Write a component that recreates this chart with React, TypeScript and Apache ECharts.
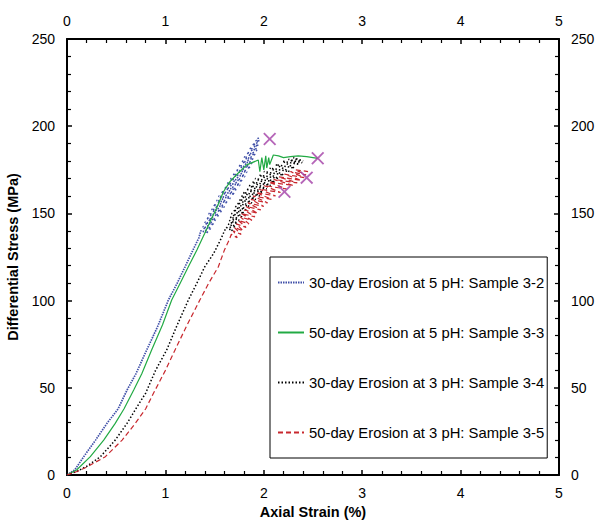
import React, { useEffect, useRef } from "react";
import * as echarts from "echarts";

const seriesNames = [
  "30-day Erosion at 5 pH: Sample 3-2",
  "50-day Erosion at 5 pH: Sample 3-3",
  "30-day Erosion at 3 pH: Sample 3-4",
  "50-day Erosion at 3 pH: Sample 3-5",
];

const sample32: [number, number][] = [
  [0, 0], [0.08, 3], [0.17, 10.5], [0.29, 20], [0.406, 29.6], [0.52, 38], [0.61, 48.7],
  [0.7, 58], [0.81, 71.7], [0.92, 85], [1.03, 100.3], [1.12, 110], [1.2, 119.4], [1.28, 129],
  [1.34, 136],
  [1.36, 140], [1.43, 139], [1.38, 142.5], [1.46, 141], [1.40, 145], [1.49, 143.5], [1.42, 147.5],
  [1.51, 146], [1.44, 150], [1.54, 148.5], [1.47, 152.5], [1.57, 151], [1.49, 155], [1.60, 153.5],
  [1.52, 157.5], [1.63, 156], [1.54, 160], [1.66, 158.5], [1.57, 162.5], [1.70, 161], [1.60, 165],
  [1.72, 163.5], [1.63, 167.5], [1.76, 166], [1.66, 170], [1.78, 168.5], [1.69, 172.5], [1.81, 171],
  [1.72, 175], [1.83, 173.5], [1.75, 177.5], [1.86, 176], [1.78, 180], [1.88, 178.5], [1.80, 182.5],
  [1.89, 181], [1.83, 185], [1.91, 183.5], [1.86, 187.5], [1.93, 186], [1.89, 190], [1.94, 188.5],
  [1.92, 192], [1.95, 191], [1.94, 194],
];

const sample33: [number, number][] = [
  [0, 0], [0.1, 3], [0.237, 10.5], [0.373, 20], [0.49, 29.6], [0.58, 38], [0.678, 48.7],
  [0.76, 58], [0.86, 71.7], [0.97, 86], [1.064, 100.3], [1.15, 110], [1.233, 119.4], [1.32, 129],
  [1.40, 138.6], [1.46, 146], [1.52, 153], [1.59, 162.4], [1.656, 168.2], [1.72, 172],
  [1.826, 177.8], [1.944, 180.6],
  [1.96, 174], [1.98, 182], [2.0, 175], [2.02, 183], [2.03, 176], [2.05, 182], [2.06, 178],
  [2.097, 183.5], [2.15, 183], [2.2, 182], [2.27, 182.6], [2.35, 183], [2.436, 182.6], [2.548, 181.6],
];

const sample34: [number, number][] = [
  [0, 0], [0.1, 2], [0.2, 5], [0.34, 10.5], [0.49, 20], [0.61, 29.6], [0.7, 38], [0.8, 47],
  [0.9, 60], [1.013, 71.7], [1.12, 86], [1.233, 100.3], [1.32, 110], [1.40, 119.4], [1.49, 127],
  [1.57, 136], [1.60, 140],
  [1.62, 142], [1.68, 140], [1.64, 144], [1.71, 142], [1.65, 146], [1.73, 144], [1.66, 148],
  [1.75, 146], [1.67, 150], [1.78, 148], [1.69, 152], [1.80, 150], [1.71, 154], [1.82, 152],
  [1.73, 156], [1.85, 154], [1.75, 158], [1.88, 156], [1.77, 160], [1.92, 158], [1.79, 162],
  [1.96, 160], [1.82, 164], [1.99, 162], [1.85, 166], [2.03, 164], [1.88, 168], [2.07, 166],
  [1.91, 170], [2.11, 168], [1.95, 172], [2.15, 170], [2.00, 174], [2.20, 172], [2.06, 176],
  [2.26, 174], [2.12, 178], [2.31, 176], [2.19, 180], [2.36, 178], [2.25, 181], [2.39, 179],
  [2.30, 182], [2.40, 180],
];

const sample35: [number, number][] = [
  [0, 0], [0.1, 2], [0.2, 4.5], [0.39, 10.5], [0.56, 20], [0.694, 29.6], [0.8, 38], [0.88, 47],
  [1.0, 60], [1.098, 71.7], [1.22, 86], [1.35, 100.3], [1.44, 110], [1.538, 119.4], [1.6, 129],
  [1.65, 135],
  [1.67, 138], [1.73, 136], [1.69, 140], [1.77, 138], [1.70, 142], [1.79, 140], [1.72, 144],
  [1.82, 142], [1.74, 146], [1.85, 144], [1.76, 148], [1.88, 146], [1.77, 150], [1.91, 148],
  [1.80, 152], [1.94, 150], [1.82, 154], [1.97, 152], [1.84, 156], [2.00, 154], [1.87, 158],
  [2.04, 156], [1.89, 160], [2.08, 158], [1.92, 162], [2.12, 160], [1.95, 164], [2.17, 162],
  [2.00, 166], [2.23, 164], [2.05, 168], [2.30, 166], [2.10, 169.5], [2.34, 167.5], [2.15, 171],
  [2.38, 169], [2.21, 172.5], [2.41, 170.5], [2.27, 174], [2.43, 172], [2.32, 175], [2.45, 174],
];

const failurePoints: [number, number][] = [
  [2.06, 192.7], [2.548, 181.6], [2.436, 170.5], [2.21, 162.4],
];

const xTicks = [0, 1, 2, 3, 4, 5];
const yTicks = [0, 50, 100, 150, 200, 250];

const FONT = "'Liberation Sans', Arial, sans-serif";
const crossPath =
  "path://M0,1 L1,0 L5,4 L9,0 L10,1 L6,5 L10,9 L9,10 L5,6 L1,10 L0,9 L4,5 Z";

function xAxisCfg(position: "bottom" | "top", withName: boolean) {
  return {
    type: "value",
    position,
    min: xTicks[0],
    max: xTicks[xTicks.length - 1],
    interval: 1,
    name: withName ? "Axial Strain (%)" : "",
    nameLocation: "middle",
    nameGap: 28,
    nameTextStyle: { fontFamily: FONT, fontWeight: "bold", fontSize: 14.5, color: "#000" },
    axisLine: { show: true, onZero: false, lineStyle: { color: "#000", width: 2 } },
    axisTick: { show: true, inside: true, length: 5, lineStyle: { color: "#000", width: 1.5 } },
    minorTick: { show: true, splitNumber: 5, length: 4, lineStyle: { color: "#000", width: 1.2 } },
    axisLabel: { fontFamily: FONT, fontSize: 14, color: "#000", margin: 11 },
    splitLine: { show: false },
  };
}

function yAxisCfg(position: "left" | "right", withName: boolean) {
  return {
    type: "value",
    position,
    min: yTicks[0],
    max: yTicks[yTicks.length - 1],
    interval: 50,
    name: withName ? "Differential Stress (MPa)" : "",
    nameLocation: "middle",
    nameGap: 39,
    nameTextStyle: { fontFamily: FONT, fontWeight: "bold", fontSize: 14.5, color: "#000" },
    axisLine: { show: true, onZero: false, lineStyle: { color: "#000", width: 2 } },
    axisTick: { show: true, inside: true, length: 5, lineStyle: { color: "#000", width: 1.5 } },
    minorTick: { show: true, splitNumber: 5, length: 4, lineStyle: { color: "#000", width: 1.2 } },
    axisLabel: { fontFamily: FONT, fontSize: 14, color: "#000", margin: 12 },
    splitLine: { show: false },
  };
}

export default function App() {
  const ref = useRef<HTMLDivElement>(null);
  useEffect(() => {
    if (!ref.current) return;
    const chart = echarts.init(ref.current, undefined, { renderer: "svg" });
    const lineBase = { type: "line", showSymbol: false, symbol: "none", smooth: false, xAxisIndex: 0, yAxisIndex: 0 };
    chart.setOption({
      animation: false,
      backgroundColor: "#fff",
      grid: { left: 67, right: 38, top: 39, bottom: 45, containLabel: false, outerBoundsMode: "none" },
      xAxis: [xAxisCfg("bottom", true), xAxisCfg("top", false)],
      yAxis: [yAxisCfg("left", true), yAxisCfg("right", false)],
      legend: {
        data: seriesNames,
        orient: "vertical",
        left: 270,
        top: 257,
        itemWidth: 26,
        itemHeight: 14,
        itemGap: 35,
        padding: [18, 3, 18, 7],
        borderColor: "#000",
        borderWidth: 1,
        backgroundColor: "#fff",
        itemStyle: { color: "transparent", borderColor: "transparent", borderWidth: 0, opacity: 0 },
        textStyle: { fontFamily: FONT, fontSize: 14.8, color: "#000" },
      },
      series: [
        {
          ...lineBase,
          name: seriesNames[0],
          data: sample32,
          color: "#3f4fa8",
          lineStyle: { color: "#3f4fa8", width: 1.7, type: [1.5, 1] },
        },
        {
          ...lineBase,
          name: seriesNames[1],
          data: sample33,
          color: "#22aa44",
          lineStyle: { color: "#22aa44", width: 1.2, type: "solid" },
        },
        {
          ...lineBase,
          name: seriesNames[2],
          data: sample34,
          color: "#000000",
          lineStyle: { color: "#000000", width: 1.5, type: [1.5, 2] },
        },
        {
          ...lineBase,
          name: seriesNames[3],
          data: sample35,
          color: "#c8282e",
          lineStyle: { color: "#c8282e", width: 1.2, type: [5, 3] },
        },
        {
          type: "scatter",
          name: "failure",
          data: failurePoints,
          symbol: crossPath,
          symbolSize: 13,
          itemStyle: { color: "#a23fa6" },
          xAxisIndex: 0,
          yAxisIndex: 0,
          z: 5,
        },
      ],
    });
    return () => chart.dispose();
  }, []);
  return (
    <div
      ref={ref}
      style={{ position: "fixed", left: 0, top: 0, width: 597, height: 520, background: "#fff" }}
    />
  );
}
